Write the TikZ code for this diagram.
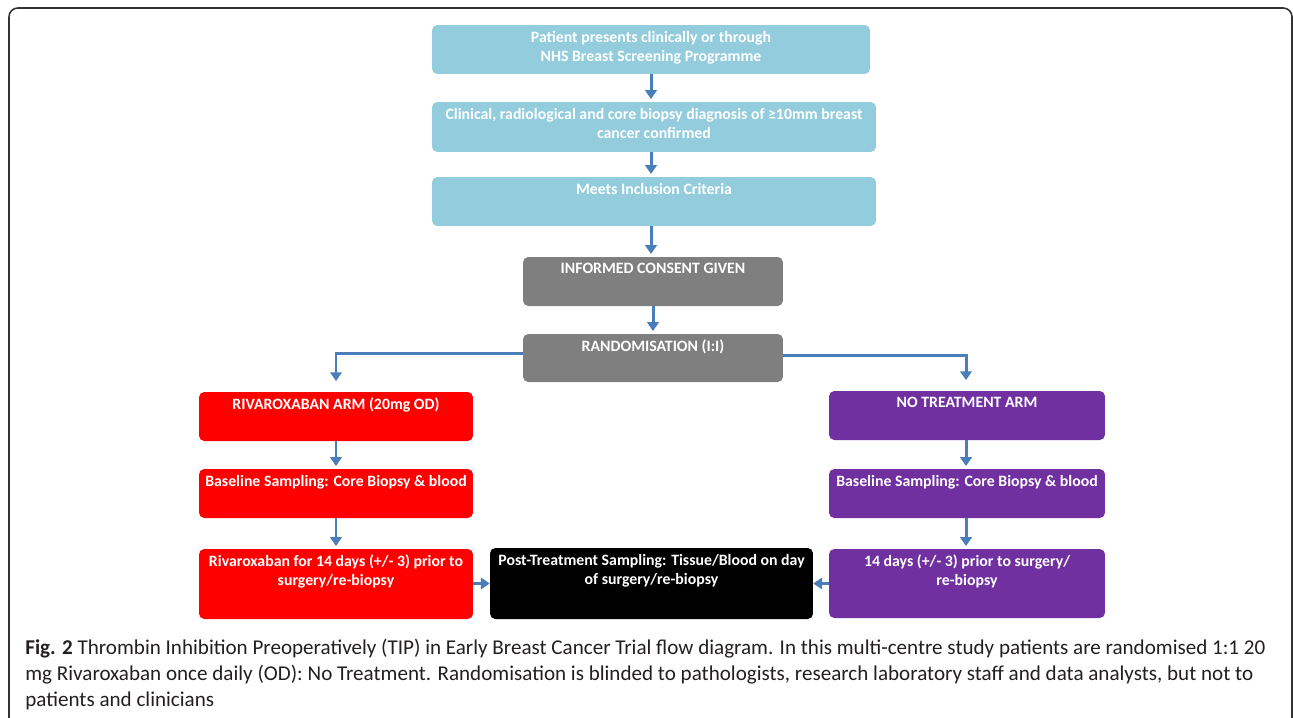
\documentclass[tikz,border=0pt]{standalone}
\usepackage{fontspec}
\setmainfont{Carlito}
\usetikzlibrary{arrows.meta,positioning,calc}

\definecolor{aqua}{HTML}{93CDDD}
\definecolor{grey}{HTML}{7F7F7F}
\definecolor{armred}{HTML}{FF0000}
\definecolor{armpurple}{HTML}{7030A0}
\definecolor{flowblue}{HTML}{4A7EBB}
\definecolor{captext}{HTML}{231F20}

\tikzset{
    box/.style={rounded corners=3pt, inner sep=0pt, text=white, font=\fontsize{9}{10.8}\selectfont\bfseries},
    flow/.style={draw=flowblue, line width=1.7pt, -{Triangle[width=6.5pt,length=5pt]}, shorten >=1.5pt}
}
\newcommand{\intext}[3]{\parbox[c][#1][t]{#2}{\centering\vspace*{3.5pt}#3}}

\begin{document}
\begin{tikzpicture}[x=0.02cm, y=-0.02cm]
                \useasboundingbox (0,0) rectangle (1293,717);
                \draw[line width=0.9pt, draw=black!80, rounded corners=5pt] (9,8) rectangle (1292,740);
                \node[box, fill=aqua] (patient) at (651,49.5) {\intext{0.98cm}{8.76cm}{Patient presents clinically or through\\NHS Breast Screening Programme}};
                \node[box, fill=aqua] (diagnosis) at (654,127) {\intext{1.0cm}{8.88cm}{Clinical, radiological and core biopsy diagnosis of ≥10mm breast\\cancer confirmed}};
                \node[box, fill=aqua] (criteria) at (654,201.5) {\intext{0.98cm}{8.88cm}{Meets Inclusion Criteria}};
                \node[box, fill=grey] (consent) at (653,281.5) {\intext{0.98cm}{5.2cm}{INFORMED CONSENT GIVEN}};
                \node[box, fill=grey] (random) at (653,358) {\intext{0.96cm}{5.2cm}{RANDOMISATION (I:I)}};
                \node[box, fill=armred] (rivaArm) at (336,416.5) {\intext{0.98cm}{5.48cm}{RIVAROXABAN ARM (20mg OD)}};
                \node[box, fill=armred] (rivaBase) at (336,493.5) {\intext{0.98cm}{5.48cm}{Baseline Sampling: Core Biopsy \& blood}};
                \node[box, fill=armred] (rivaDays) at (336,584) {\intext{1.4cm}{5.48cm}{Rivaroxaban for 14 days (+/- 3) prior to\\surgery/re-biopsy}};
                \node[box, fill=black] (post) at (651.5,583.5) {\intext{1.42cm}{6.46cm}{Post-Treatment Sampling: Tissue/Blood on day\\of surgery/re-biopsy}};
                \node[box, fill=armpurple] (noArm) at (967,415.5) {\intext{0.98cm}{5.52cm}{NO TREATMENT ARM}};
                \node[box, fill=armpurple] (noBase) at (967,493.5) {\intext{0.98cm}{5.52cm}{Baseline Sampling: Core Biopsy \& blood}};
                \node[box, fill=armpurple] (noDays) at (967,583.5) {\intext{1.38cm}{5.52cm}{14 days (+/- 3) prior to surgery/\\re-biopsy}};
                \draw[flow] (patient.south) -- (patient.south |- diagnosis.north);
                \draw[flow] (diagnosis.south -| patient.south) -- (patient.south |- criteria.north);
                \draw[flow] (criteria.south -| patient.south) -- (patient.south |- consent.north);
                \draw[flow] (consent.south) -- (random.north);
                \draw[flow, shorten >=6pt] ([yshift=0.1cm]random.west) -| (rivaArm.north);
                \draw[flow, shorten >=6pt] ([yshift=0.05cm]random.east) -| ([xshift=-0.02cm]noArm.north);
                \draw[flow] (rivaArm) -- (rivaBase);
                \draw[flow] (rivaBase) -- (rivaDays);
                \draw[flow] ([xshift=-0.02cm]noArm.south) -- ([xshift=-0.02cm]noBase.north);
                \draw[flow] ([xshift=-0.02cm]noBase.south) -- ([xshift=-0.02cm]noDays.north);
                \draw[flow, shorten >=0pt] (rivaDays.east |- post.east) -- (post.east -| post.west);
                \draw[flow, shorten >=0pt] (noDays.west |- post.east) -- (post.east);
                \node[anchor=north west, align=left, text=captext, font=\fontsize{12}{14.7}\selectfont, inner sep=0pt] (caption) at (25,639) {\textbf{Fig. 2} Thrombin Inhibition Preoperatively (TIP) in Early Breast Cancer Trial flow diagram. In this multi-centre study patients are randomised 1:1 20\\mg Rivaroxaban once daily (OD): No Treatment. Randomisation is blinded to pathologists, research laboratory staff and data analysts, but not to\\patients and clinicians};
            \end{tikzpicture}
\end{document}
